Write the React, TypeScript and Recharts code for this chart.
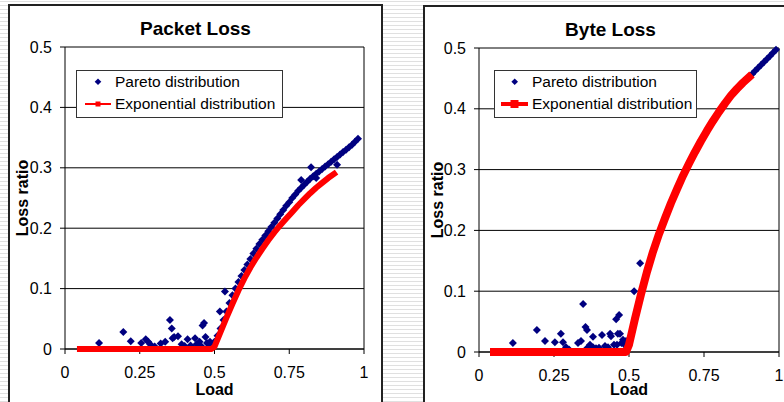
import React from 'react';
import { ComposedChart, Scatter, Line, XAxis, YAxis, CartesianGrid, ReferenceLine, Label } from 'recharts';

type Pt = [number, number];

const FONT = '"Liberation Sans", Arial, Helvetica, sans-serif';
const titles = ['Packet Loss', 'Byte Loss'];
const seriesNames = ['Pareto distribution', 'Exponential distribution'];
const xLabel = 'Load';
const yLabel = 'Loss ratio';
const xTicks = [0, 0.25, 0.5, 0.75, 1];
const yTicks = [0, 0.1, 0.2, 0.3, 0.4, 0.5];

// Packet Loss – Pareto (scatter)
const packetParetoLow: Pt[] = [
  [0.114, 0.01], [0.195, 0.028], [0.22, 0.013], [0.255, 0.01], [0.27, 0.016], [0.278, 0.012],
  [0.285, 0.008], [0.3, 0.004], [0.32, 0.009], [0.335, 0.012], [0.351, 0.048], [0.357, 0.034],
  [0.36, 0.018], [0.365, 0.02], [0.378, 0.021], [0.39, 0.008], [0.4, 0.005], [0.41, 0.016],
  [0.42, 0.006], [0.435, 0.018], [0.44, 0.008], [0.45, 0.012], [0.455, 0.005], [0.46, 0.039],
  [0.465, 0.043], [0.47, 0.02], [0.475, 0.01], [0.48, 0.008], [0.485, 0.012], [0.49, 0.006],
  [0.518, 0.062], [0.535, 0.095],
];
const packetParetoCurve: Pt[] = [
  [0.49, 0.004], [0.5, 0.012], [0.51, 0.022], [0.52, 0.034], [0.53, 0.048], [0.54, 0.062],
  [0.55, 0.076], [0.56, 0.089], [0.57, 0.1], [0.58, 0.111], [0.59, 0.121], [0.6, 0.131],
  [0.61, 0.14], [0.62, 0.149], [0.63, 0.158], [0.64, 0.166], [0.65, 0.174], [0.66, 0.181],
  [0.67, 0.188], [0.68, 0.195], [0.69, 0.202], [0.7, 0.209], [0.71, 0.216], [0.72, 0.223],
  [0.73, 0.23], [0.74, 0.237], [0.75, 0.243], [0.76, 0.25], [0.77, 0.256], [0.78, 0.262],
  [0.79, 0.267], [0.8, 0.272], [0.81, 0.277], [0.82, 0.282], [0.83, 0.286], [0.84, 0.29],
  [0.85, 0.294], [0.86, 0.298], [0.87, 0.302], [0.88, 0.306], [0.89, 0.31], [0.9, 0.314],
  [0.91, 0.318], [0.92, 0.322], [0.93, 0.326], [0.94, 0.33], [0.95, 0.334], [0.96, 0.338],
  [0.97, 0.343], [0.98, 0.348],
];
const packetParetoOutliers: Pt[] = [[0.79, 0.28], [0.823, 0.301], [0.84, 0.283], [0.91, 0.305]];

// Packet Loss – Exponential (line)
const packetExp: Pt[] = [
  [0.05, 0], [0.1, 0], [0.15, 0], [0.2, 0], [0.25, 0], [0.3, 0], [0.35, 0], [0.4, 0], [0.45, 0],
  [0.49, 0], [0.5, 0.004], [0.52, 0.028], [0.54, 0.052], [0.56, 0.075], [0.58, 0.097], [0.6, 0.117],
  [0.62, 0.135], [0.64, 0.151], [0.66, 0.166], [0.68, 0.18], [0.7, 0.193], [0.72, 0.205],
  [0.74, 0.216], [0.76, 0.227], [0.78, 0.238], [0.8, 0.248], [0.82, 0.258], [0.84, 0.267],
  [0.86, 0.275], [0.88, 0.283], [0.9, 0.29],
];

// Byte Loss – Pareto (scatter)
const byteParetoLow: Pt[] = [
  [0.113, 0.015], [0.193, 0.036], [0.22, 0.018], [0.253, 0.016], [0.273, 0.03], [0.28, 0.016],
  [0.29, 0.008], [0.3, 0.004], [0.33, 0.015], [0.34, 0.018], [0.347, 0.079], [0.355, 0.041],
  [0.36, 0.036], [0.36, 0.006], [0.37, 0.012], [0.38, 0.025], [0.38, 0.008], [0.39, 0.006],
  [0.4, 0.007], [0.41, 0.028], [0.42, 0.01], [0.43, 0.008], [0.437, 0.03], [0.44, 0.026],
  [0.45, 0.012], [0.457, 0.054], [0.46, 0.012], [0.463, 0.03], [0.467, 0.061], [0.47, 0.03],
  [0.475, 0.015], [0.48, 0.02], [0.485, 0.012], [0.49, 0.018], [0.495, 0.01], [0.517, 0.1],
  [0.537, 0.146],
];
const byteParetoCurve: Pt[] = [
  [0.5, 0.012], [0.52, 0.055], [0.54, 0.095], [0.56, 0.132], [0.58, 0.165], [0.6, 0.194],
  [0.62, 0.22], [0.64, 0.245], [0.66, 0.268], [0.68, 0.29], [0.7, 0.31], [0.72, 0.329],
  [0.74, 0.347], [0.76, 0.364], [0.78, 0.38], [0.8, 0.395], [0.82, 0.409], [0.84, 0.422],
  [0.86, 0.433], [0.88, 0.443], [0.9, 0.452], [0.91, 0.457], [0.92, 0.462], [0.93, 0.467],
  [0.94, 0.472], [0.95, 0.477], [0.96, 0.482], [0.97, 0.487], [0.98, 0.492], [0.99, 0.497],
];

// Byte Loss – Exponential (line)
const byteExp: Pt[] = [
  [0.05, 0], [0.1, 0], [0.15, 0], [0.2, 0], [0.25, 0], [0.3, 0], [0.35, 0], [0.4, 0], [0.45, 0],
  [0.49, 0], [0.5, 0.012], [0.52, 0.055], [0.54, 0.095], [0.56, 0.132], [0.58, 0.165], [0.6, 0.194],
  [0.62, 0.22], [0.64, 0.245], [0.66, 0.268], [0.68, 0.29], [0.7, 0.31], [0.72, 0.329],
  [0.74, 0.347], [0.76, 0.364], [0.78, 0.38], [0.8, 0.395], [0.82, 0.409], [0.84, 0.422],
  [0.86, 0.433], [0.88, 0.443], [0.9, 0.452],
];

const toRows = (pts: Pt[]) => pts.map(([x, y]) => ({ x, y }));

const diamond = (r: number) => (props: any) => {
  const { cx, cy } = props;
  if (cx == null || cy == null) return <g />;
  return <path d={`M${cx},${cy - r}L${cx + r},${cy}L${cx},${cy + r}L${cx - r},${cy}Z`} fill="#000080" />;
};

const tickStyle = { fill: '#000', fontSize: 16, fontFamily: FONT };

function Panel(props: {
  left: number; top: number; height: number; yAxisWidth: number; xAxisHeight: number;
  pareto: Pt[]; exp: Pt[]; redWidth: number; diamondR: number; loadOffset: number;
}) {
  const { left, top, height, yAxisWidth, xAxisHeight, pareto, exp, redWidth, diamondR, loadOffset } = props;
  const lineProps: any = { zIndex: 700 };
  const scatterProps: any = { zIndex: 500 };
  return (
    <div style={{ position: 'absolute', left, top }}>
      <ComposedChart width={372} height={height} margin={{ top: 41, right: 18, bottom: 0, left: 0 }}>
        <CartesianGrid horizontal vertical={false} stroke="#000" strokeOpacity={1} />
        <XAxis
          type="number" dataKey="x" domain={[0, 1]} ticks={xTicks} interval={0}
          height={xAxisHeight} tickSize={5} tickMargin={13}
          axisLine={{ stroke: '#000' }} tickLine={{ stroke: '#000' }} tick={tickStyle}
        >
          <Label
            content={(p: any) => {
              const vb = p.viewBox;
              return (
                <text x={vb.x + vb.width / 2} y={vb.y + loadOffset} dy="0.355em" textAnchor="middle"
                  fontFamily={FONT} fontSize={16} fontWeight="bold" fill="#000">{xLabel}</text>
              );
            }}
          />
        </XAxis>
        <YAxis
          type="number" dataKey="y" domain={[0, 0.5]} ticks={yTicks} interval={0}
          width={yAxisWidth} tickSize={5} tickMargin={8}
          axisLine={{ stroke: '#000' }} tickLine={{ stroke: '#000' }} tick={tickStyle}
        >
          <Label
            content={(p: any) => {
              const vb = p.viewBox;
              const cx = vb.x + 12.5;
              const cy = vb.y + vb.height / 2;
              return (
                <text x={cx} y={cy} dy="0.355em" textAnchor="middle" transform={`rotate(-90 ${cx} ${cy})`}
                  fontFamily={FONT} fontSize={16} fontWeight="bold" fill="#000">{yLabel}</text>
              );
            }}
          />
        </YAxis>
        <ReferenceLine x={1} stroke="#000" strokeWidth={1} />
        <Scatter name={seriesNames[0]} data={toRows(pareto)} shape={diamond(diamondR)} isAnimationActive={false} {...scatterProps} />
        <Line
          name={seriesNames[1]} data={toRows(exp)} dataKey="y" type="linear" stroke="#ff0000"
          strokeWidth={redWidth} dot={false} activeDot={false} isAnimationActive={false}
          strokeLinecap="square" strokeLinejoin="round" {...lineProps}
        />
      </ComposedChart>
    </div>
  );
}

function LegendBox(props: {
  left: number; top: number; width: number; markerX: number; lineFrom: number; lineTo: number;
  textX: number; lineW: number; squareW: number;
}) {
  const { left, top, width, markerX, lineFrom, lineTo, textX, lineW, squareW } = props;
  const row1 = 11.7;
  const row2 = 34;
  return (
    <div style={{
      position: 'absolute', left, top, width, height: 48, boxSizing: 'border-box',
      border: '1px solid #333', background: '#fff', fontFamily: FONT, fontSize: 15.5, color: '#000',
    }}>
      <svg width={width} height={48} style={{ position: 'absolute', left: -1, top: -1 }}>
        <path d={`M${markerX},${row1 - 3.3}L${markerX + 3.3},${row1}L${markerX},${row1 + 3.3}L${markerX - 3.3},${row1}Z`} fill="#000080" />
        <line x1={lineFrom} x2={lineTo} y1={row2} y2={row2} stroke="#ff0000" strokeWidth={lineW} />
        <rect x={(lineFrom + lineTo) / 2 - squareW / 2} y={row2 - squareW / 2} width={squareW} height={squareW} fill="#ff0000" />
      </svg>
      <div style={{ position: 'absolute', left: textX - 1, top: row1 - 10 - 1, lineHeight: '20px', whiteSpace: 'nowrap' }}>{seriesNames[0]}</div>
      <div style={{ position: 'absolute', left: textX - 1, top: row2 - 10 - 1, lineHeight: '20px', whiteSpace: 'nowrap' }}>{seriesNames[1]}</div>
    </div>
  );
}

function Title({ cx, cy, text }: { cx: number; cy: number; text: string }) {
  return (
    <div style={{
      position: 'absolute', left: cx - 150, top: cy - 12, width: 300, height: 24, lineHeight: '24px',
      textAlign: 'center', fontFamily: FONT, fontSize: 19, fontWeight: 'bold', color: '#000',
    }}>{text}</div>
  );
}

export default function App() {
  return (
    <div style={{
      position: 'fixed', left: 0, top: 0, width: 784, height: 402, overflow: 'hidden',
      background: 'repeating-linear-gradient(to bottom, #fff 0px, #fff 1px, #e0e0e0 1px, #e0e0e0 2px, #fff 2px, #fff 4px)',
    }}>
      <div style={{ position: 'absolute', left: 8, top: 4, width: 375, height: 420, border: '2px solid #222', boxSizing: 'border-box', background: '#fff' }} />
      <div style={{ position: 'absolute', left: 423, top: 5, width: 420, height: 420, border: '2px solid #222', boxSizing: 'border-box', background: '#fff' }} />
      <Panel left={10} top={6} height={396} yAxisWidth={55} xAxisHeight={53}
        pareto={[...packetParetoLow, ...packetParetoCurve, ...packetParetoOutliers]} exp={packetExp}
        redWidth={6} diamondR={4} loadOffset={40.5} />
      <Panel left={425} top={7} height={395} yAxisWidth={54} xAxisHeight={50}
        pareto={[...byteParetoLow, ...byteParetoCurve]} exp={byteExp}
        redWidth={8} diamondR={4} loadOffset={37.5} />
      <Title cx={195.5} cy={28.5} text={titles[0]} />
      <Title cx={610.5} cy={29.5} text={titles[1]} />
      <LegendBox left={76} top={70} width={207} markerX={22} lineFrom={9} lineTo={35} textX={39} lineW={2} squareW={5} />
      <LegendBox left={494} top={70} width={203} markerX={20.7} lineFrom={7} lineTo={34} textX={38} lineW={4} squareW={8} />
    </div>
  );
}
